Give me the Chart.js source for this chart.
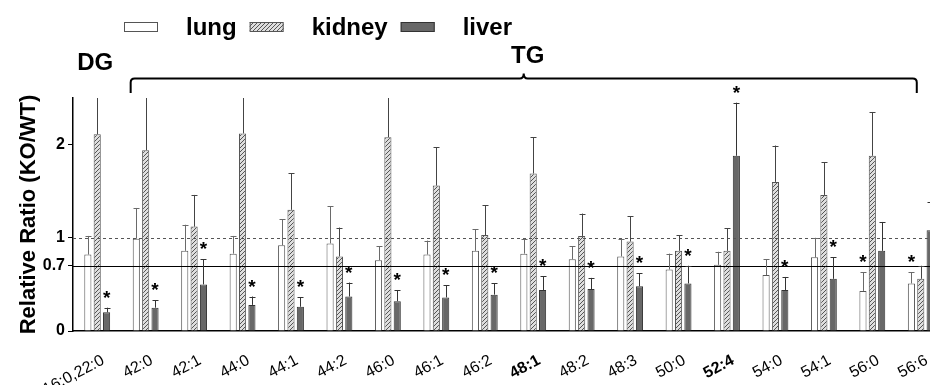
<!DOCTYPE html>
<html>
<head>
<meta charset="utf-8">
<script src="https://cdn.jsdelivr.net/npm/chart.js@4.4.0/dist/chart.umd.min.js"></script>
<style>
html, body { margin: 0; padding: 0; overflow: hidden; background: #fff; }
#wrap { width: 960px; height: 385px; }
</style>
</head>
<body>
<div id="wrap"><canvas id="ratioChart" width="960" height="385"></canvas></div>
<script>
// lipid species (TG / DG) on the x axis
const species = ['16:0,22:0', '42:0', '42:1', '44:0', '44:1', '44:2', '46:0', '46:1', '46:2',
                 '48:1', '48:2', '48:3', '50:0', '52:4', '54:0', '54:1', '56:0', '56:6'];
const boldSpecies = ['48:1', '52:4'];

// KO/WT ratios and SD
const lungRatio   = [0.82, 0.99, 0.86, 0.83, 0.92, 0.94, 0.76, 0.82, 0.86, 0.83, 0.77, 0.80, 0.66, 0.71, 0.60, 0.79, 0.43, 0.51];
const lungSd      = [0.20, 0.33, 0.28, 0.19, 0.28, 0.40, 0.15, 0.15, 0.23, 0.16, 0.14, 0.19, 0.17, 0.14, 0.17, 0.21, 0.20, 0.12];
const kidneyRatio = [2.11, 1.94, 1.12, 2.12, 1.30, 0.80, 2.08, 1.56, 1.03, 1.69, 1.02, 0.96, 0.86, 0.86, 1.60, 1.46, 1.88, 0.56];
const kidneySd    = [0.60, 0.70, 0.34, 0.60, 0.39, 0.31, 0.60, 0.41, 0.32, 0.39, 0.24, 0.27, 0.17, 0.24, 0.39, 0.35, 0.47, 0.14];
const liverRatio  = [0.20, 0.25, 0.50, 0.28, 0.26, 0.37, 0.32, 0.36, 0.39, 0.44, 0.45, 0.48, 0.51, 1.88, 0.44, 0.56, 0.86, 1.08];
const liverSd     = [0.05, 0.08, 0.27, 0.09, 0.10, 0.15, 0.12, 0.13, 0.12, 0.15, 0.12, 0.14, 0.19, 0.57, 0.14, 0.23, 0.31, 0.30];

// significance marks (1 = *)
const lungStar   = [0, 0, 0, 0, 0, 0, 0, 0, 0, 0, 0, 0, 0, 0, 0, 0, 1, 1];
const kidneyStar = [0, 0, 0, 0, 0, 0, 0, 0, 0, 0, 0, 0, 0, 0, 0, 0, 0, 0];
const liverStar  = [1, 1, 1, 1, 1, 1, 1, 1, 1, 1, 1, 1, 1, 1, 1, 1, 0, 0];

const yTicks = [0, 0.7, 1, 2];
const refSolid = 0.7;
const refDashed = 1;

// same family string Chart.js uses by default
const FONT = "'Helvetica Neue', 'Helvetica', 'Arial', sans-serif";
Chart.defaults.color = '#000';

function hatch() {
    const c = document.createElement('canvas');
    c.width = 4; c.height = 4;
    const g = c.getContext('2d');
    g.fillStyle = '#dedede';
    g.fillRect(0, 0, 4, 4);
    g.strokeStyle = '#555';
    g.lineWidth = 1;
    g.beginPath();
    g.moveTo(0, 4); g.lineTo(4, 0);
    g.moveTo(-1, 1); g.lineTo(1, -1);
    g.moveTo(3, 5); g.lineTo(5, 3);
    g.stroke();
    return g.createPattern(c, 'repeat');
}

// error bars, reference lines and asterisks
const errorBars = {
    id: 'errorBars',
    afterDatasetsDraw(chart) {
        const { ctx, chartArea: a, scales: { y } } = chart;
        ctx.save();
        ctx.beginPath();
        ctx.rect(a.left, a.top, a.right - a.left, a.bottom - a.top + 1);
        ctx.clip();

        // reference lines
        ctx.lineWidth = 1;
        ctx.strokeStyle = '#000';
        let py = Math.round(y.getPixelForValue(refSolid)) + 0.5;
        ctx.beginPath(); ctx.moveTo(a.left, py); ctx.lineTo(a.right, py); ctx.stroke();
        ctx.strokeStyle = '#555';
        ctx.setLineDash([3, 3]);
        py = Math.round(y.getPixelForValue(refDashed)) + 0.5;
        ctx.beginPath(); ctx.moveTo(a.left, py); ctx.lineTo(a.right, py); ctx.stroke();
        ctx.setLineDash([]);

        chart.data.datasets.forEach((ds, i) => {
            const meta = chart.getDatasetMeta(i);
            ctx.strokeStyle = ds.errColor;
            meta.data.forEach((bar, j) => {
                const x = Math.round(bar.x) + 0.5;
                const top = y.getPixelForValue(ds.data[j] + ds.sd[j]);
                ctx.beginPath();
                ctx.moveTo(x, bar.y);
                ctx.lineTo(x, top);
                if (top > a.top + 1) {
                    const t = Math.round(top) + 0.5;
                    ctx.moveTo(x - 3, t); ctx.lineTo(x + 3, t);
                }
                ctx.stroke();
            });
        });
        ctx.restore();

        ctx.save();
        ctx.fillStyle = '#000';
        ctx.font = 'bold 19px ' + FONT;
        ctx.textAlign = 'center';
        ctx.textBaseline = 'alphabetic';
        chart.data.datasets.forEach((ds, i) => {
            const meta = chart.getDatasetMeta(i);
            meta.data.forEach((bar, j) => {
                if (!ds.star[j]) return;
                const top = Math.max(y.getPixelForValue(ds.data[j] + ds.sd[j]), a.top);
                ctx.fillText('*', bar.x, top - 4);
            });
        });
        ctx.restore();
    }
};

// legend, DG label and TG bracket
const annotations = {
    id: 'annotations',
    afterDraw(chart) {
        const { ctx, scales: { x } } = chart;
        ctx.save();

        // legend
        ctx.font = 'bold 24px ' + FONT;
        ctx.textBaseline = 'alphabetic';
        ctx.textAlign = 'left';
        let lx = 124;
        chart.data.datasets.forEach(ds => {
            ctx.fillStyle = ds.backgroundColor;
            ctx.fillRect(lx, 22, 34, 10);
            ctx.strokeStyle = ds.borderColor;
            ctx.lineWidth = 1;
            ctx.strokeRect(lx + 0.5, 22.5, 33, 9);
            ctx.fillStyle = '#000';
            ctx.fillText(ds.label, lx + 62, 35);
            lx += 62 + ctx.measureText(ds.label).width + 13;
        });

        // group labels
        ctx.textAlign = 'center';
        ctx.fillText('DG', x.getPixelForValue(0) - 2, 70);

        const L = x.getPixelForValue(1) - 15;
        const R = x.getPixelForValue(species.length - 1) - 4;
        const C = (L + R) / 2;
        const by = 78.5;
        ctx.strokeStyle = '#000';
        ctx.lineWidth = 2;
        ctx.beginPath();
        ctx.moveTo(L, 93);
        ctx.lineTo(L, by + 4);
        ctx.quadraticCurveTo(L, by, L + 4, by);
        ctx.lineTo(C - 4, by);
        ctx.quadraticCurveTo(C, by, C, by - 5);
        ctx.quadraticCurveTo(C, by, C + 4, by);
        ctx.lineTo(R - 4, by);
        ctx.quadraticCurveTo(R, by, R, by + 4);
        ctx.lineTo(R, 93);
        ctx.stroke();
        ctx.fillText('TG', C + 4, 63);

        ctx.restore();
    }
};

new Chart(document.getElementById('ratioChart'), {
    type: 'bar',
    data: {
        labels: species,
        datasets: [{
            label: 'lung',
            data: lungRatio,
            sd: lungSd,
            star: lungStar,
            backgroundColor: '#ffffff',
            borderColor: '#555555',
            errColor: '#6a6a6a',
            borderWidth: 1
        }, {
            label: 'kidney',
            data: kidneyRatio,
            sd: kidneySd,
            star: kidneyStar,
            backgroundColor: hatch(),
            borderColor: '#555555',
            errColor: '#444444',
            borderWidth: 1
        }, {
            label: 'liver',
            data: liverRatio,
            sd: liverSd,
            star: liverStar,
            backgroundColor: '#686868',
            borderColor: '#333333',
            errColor: '#333333',
            borderWidth: 1
        }]
    },
    options: {
        responsive: false,
        animation: false,
        categoryPercentage: 0.58,
        barPercentage: 0.76,
        // canvas is wider than the window so the last group runs off the edge
        layout: { padding: { top: 98, right: 15, left: 0, bottom: 0 } },
        plugins: {
            legend: { display: false },
            tooltip: { enabled: false }
        },
        scales: {
            x: {
                grid: { display: false },
                border: { color: '#000', width: 1.5 },
                ticks: {
                    autoSkip: false,
                    minRotation: 28,
                    maxRotation: 28,
                    padding: 12,
                    labelOffset: 6,
                    color: '#000',
                    font: ctx => ({
                        size: 16,
                        weight: boldSpecies.includes(species[ctx.index]) ? 'bold' : 'normal'
                    })
                },
                afterFit: s => { s.height = 54; }
            },
            y: {
                min: 0,
                max: 2.5,
                afterBuildTicks: s => { s.ticks = yTicks.map(v => ({ value: v })); },
                grid: { drawOnChartArea: false, drawTicks: true, tickLength: 5, color: '#000' },
                border: { color: '#000', width: 1.5 },
                ticks: {
                    padding: 3,
                    color: '#000',
                    font: { size: 16, weight: 'bold' },
                    callback: v => String(v)
                },
                title: {
                    display: true,
                    text: 'Relative Ratio (KO/WT)',
                    color: '#000',
                    font: { size: 22, weight: 'bold' },
                    padding: { top: 16, bottom: 0 }
                },
                afterFit: s => { s.width = 73; }
            }
        }
    },
    plugins: [errorBars, annotations]
});
</script>
</body>
</html>
